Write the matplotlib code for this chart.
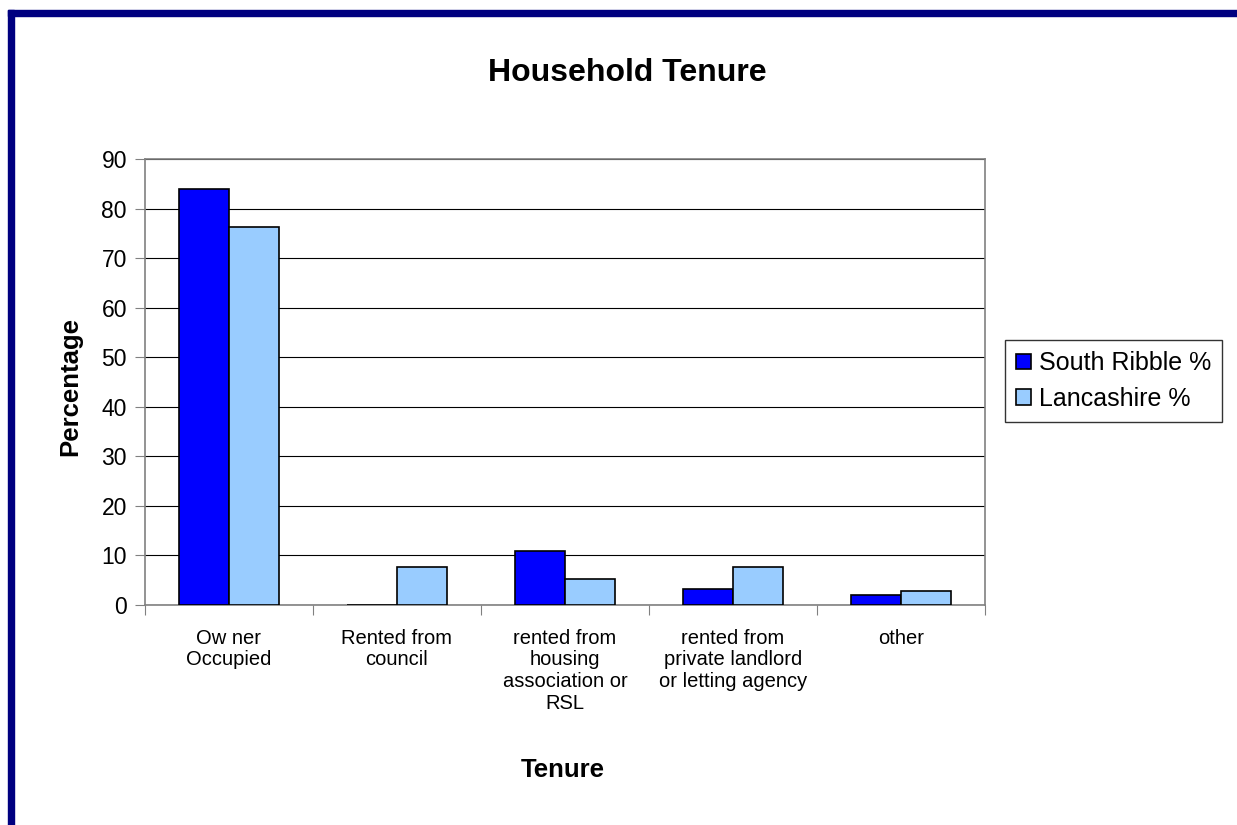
import matplotlib
matplotlib.use("Agg")
import matplotlib.pyplot as plt
import numpy as np
from matplotlib.patches import Rectangle

plt.rcParams['font.family'] = ['Liberation Sans', 'DejaVu Sans']

# data
categories = ["Ow ner\nOccupied", "Rented from\ncouncil",
              "rented from\nhousing\nassociation or\nRSL",
              "rented from\nprivate landlord\nor letting agency", "other"]
south_ribble = [84.0, 0.0, 10.8, 3.2, 2.0]
lancashire = [76.3, 7.6, 5.2, 7.6, 2.8]
series_names = ["South Ribble %", "Lancashire %"]

fig = plt.figure(figsize=(12.37, 8.25), dpi=100)
ax = fig.add_axes([0.1172, 0.2667, 0.6791, 0.5406])

x = np.arange(len(categories))
w = 0.3
ax.bar(x - w / 2, south_ribble, w, color="#0000FF", edgecolor="black",
       linewidth=1.2, label=series_names[0], zorder=3)
ax.bar(x + w / 2, lancashire, w, color="#99CCFF", edgecolor="black",
       linewidth=1.2, label=series_names[1], zorder=3)

ax.set_xlim(-0.5, len(categories) - 0.5)
ax.set_ylim(0, 90)
ax.set_yticks(np.arange(0, 91, 10))
ax.yaxis.grid(True, color="black", linewidth=0.8, zorder=0)
ax.set_axisbelow(True)

# category boundary ticks
ax.set_xticks(np.arange(-0.5, len(categories), 1.0))
ax.set_xticklabels([])
ax.set_xticks(x, minor=True)
ax.set_xticklabels(categories, minor=True, fontsize=14.5,
                   linespacing=1.19, va="top")
ax.tick_params(axis="x", which="minor", length=0, pad=17)
ax.tick_params(axis="x", which="major", length=7, color="gray")
ax.tick_params(axis="y", length=7, color="gray", labelsize=16.5, pad=6)

for s in ax.spines.values():
    s.set_color("gray")
    s.set_linewidth(1.2)

fig.text(627 / 1237, 1 - 73 / 825, "Household Tenure", fontsize=23,
         fontweight="bold", ha="center", va="center")
ax.set_ylabel("Percentage", fontsize=18.5, fontweight="bold", va="center")
ax.yaxis.set_label_coords(-0.089, 0.49)
ax.set_xlabel("Tenure", fontsize=18.5, fontweight="bold", va="center")
ax.xaxis.set_label_coords(0.4976, -0.37)

leg = ax.legend(loc="upper left", bbox_to_anchor=(1005 / 1237, 1 - 340 / 825),
                bbox_transform=fig.transFigure, fontsize=18,
                frameon=True, fancybox=False, edgecolor="black",
                handlelength=0.6, handleheight=0.6, handletextpad=0.3,
                borderpad=0.45, borderaxespad=0, labelspacing=0.45)
leg.get_frame().set_linewidth(1.0)

# navy border on top and left
fig.patches.append(Rectangle((8 / 1237, 1 - 16 / 825), 1, 6 / 825,
                             transform=fig.transFigure, color="#000080", zorder=10))
fig.patches.append(Rectangle((8 / 1237, 0), 6 / 1237, 1 - 10 / 825,
                             transform=fig.transFigure, color="#000080", zorder=10))

fig.savefig("out.png", dpi=100)
